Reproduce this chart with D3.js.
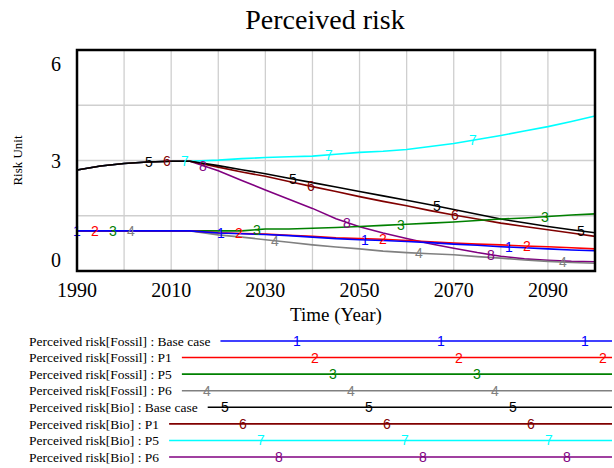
<!DOCTYPE html>
<html>
<head>
<meta charset="utf-8">
<script src="https://cdn.jsdelivr.net/npm/d3@7"></script>
<style>
  body { margin: 0; background: #fff; }
  svg { display: block; }
</style>
</head>
<body>
<div class="chart"></div>
<script>
// 資料
var years = [1990, 1995, 2000, 2005, 2010, 2014, 2020, 2025, 2030, 2035, 2040, 2045,
  2050, 2055, 2060, 2065, 2070, 2075, 2080, 2085, 2090, 2095, 2100];

var fossilBase = [1.09, 1.09, 1.09, 1.09, 1.09, 1.09, 1.03, 1.01, 0.99, 0.96, 0.92, 0.88,
  0.85, 0.83, 0.80, 0.77, 0.73, 0.70, 0.66, 0.63, 0.60, 0.57, 0.55];
var fossilP1 = [1.09, 1.09, 1.09, 1.09, 1.09, 1.09, 1.04, 1.02, 1.00, 0.97, 0.94, 0.90,
  0.88, 0.86, 0.83, 0.79, 0.76, 0.73, 0.71, 0.68, 0.66, 0.63, 0.60];
var fossilP5 = [1.09, 1.09, 1.09, 1.09, 1.09, 1.09, 1.09, 1.09, 1.14, 1.14, 1.16, 1.18,
  1.21, 1.24, 1.27, 1.30, 1.33, 1.37, 1.41, 1.44, 1.48, 1.52, 1.55];
var fossilP6 = [1.09, 1.09, 1.09, 1.09, 1.09, 1.09, 0.98, 0.92, 0.85, 0.78, 0.71, 0.65,
  0.60, 0.54, 0.50, 0.47, 0.44, 0.39, 0.35, 0.30, 0.26, 0.23, 0.21];
var bioBase = [2.74, 2.85, 2.92, 2.96, 2.98, 2.98, 2.86, 2.75, 2.64, 2.52, 2.40, 2.28,
  2.16, 2.04, 1.92, 1.80, 1.67, 1.54, 1.41, 1.31, 1.21, 1.12, 1.04];
var bioP1 = [2.74, 2.85, 2.92, 2.96, 2.98, 2.98, 2.82, 2.69, 2.57, 2.43, 2.29, 2.16,
  2.02, 1.89, 1.77, 1.64, 1.52, 1.41, 1.30, 1.21, 1.12, 1.03, 0.94];
var bioP5 = [2.74, 2.85, 2.92, 2.96, 2.98, 2.98, 3.01, 3.05, 3.08, 3.10, 3.12, 3.17,
  3.22, 3.25, 3.30, 3.38, 3.46, 3.57, 3.68, 3.80, 3.92, 4.06, 4.21];
var bioP6 = [2.74, 2.85, 2.92, 2.96, 2.98, 2.98, 2.72, 2.46, 2.20, 1.95, 1.70, 1.42,
  1.20, 1.03, 0.88, 0.74, 0.62, 0.50, 0.40, 0.33, 0.29, 0.26, 0.25];

var seriesNames = [
  "Perceived risk[Fossil] : Base case",
  "Perceived risk[Fossil] : P1",
  "Perceived risk[Fossil] : P5",
  "Perceived risk[Fossil] : P6",
  "Perceived risk[Bio] : Base case",
  "Perceived risk[Bio] : P1",
  "Perceived risk[Bio] : P5",
  "Perceived risk[Bio] : P6"
];
var seriesValues = [fossilBase, fossilP1, fossilP5, fossilP6, bioBase, bioP1, bioP5, bioP6];
var seriesColors = ["#0000ff", "#ff0000", "#008000", "#808080", "#000000", "#800000", "#00ffff", "#800080"];

var yTicks = [0, 1.5, 3, 4.5, 6];
var yLabels = [0, 3, 6];
var xGrid = d3.range(1990, 2101, 10);
var xLabels = [1990, 2010, 2030, 2050, 2070, 2090];

// 畫布
var width = 614;
var height = 468;
var margin = { top: 50, right: 19, bottom: 197, left: 77 };
var serif = "'Liberation Serif', 'Times New Roman', serif";
var sans = "'Liberation Sans', Arial, sans-serif";

var svg = d3
  .select(".chart")
  .append("svg")
  .attr("width", width)
  .attr("height", height);

var x = d3.scaleLinear().domain([1990, 2100]).range([margin.left, width - margin.right]);
var y = d3.scaleLinear().domain([0, 6]).range([height - margin.bottom, margin.top]);

// 標題
svg.append("text")
  .attr("x", 325)
  .attr("y", 29)
  .attr("text-anchor", "middle")
  .style("font-family", serif)
  .style("font-size", "28px")
  .text("Perceived risk");

// 格線
svg.append("g")
  .selectAll("line")
  .data(xGrid)
  .enter()
  .append("line")
  .attr("x1", (d) => x(d))
  .attr("x2", (d) => x(d))
  .attr("y1", y(6))
  .attr("y2", y(0))
  .attr("stroke", "#cfcfcf")
  .attr("stroke-width", 1.3);

svg.append("g")
  .selectAll("line")
  .data(yTicks)
  .enter()
  .append("line")
  .attr("x1", x(1990))
  .attr("x2", x(2100))
  .attr("y1", (d) => y(d))
  .attr("y2", (d) => y(d))
  .attr("stroke", "#cfcfcf")
  .attr("stroke-width", 1.3);

// 軸標籤
svg.append("g")
  .selectAll("text")
  .data(yLabels)
  .enter()
  .append("text")
  .attr("x", 61)
  .attr("y", (d) => Math.min(Math.max(y(d), y(6) + 14), y(0) - 11))
  .attr("dy", "0.35em")
  .attr("text-anchor", "end")
  .style("font-family", serif)
  .style("font-size", "20px")
  .text((d) => d);

svg.append("g")
  .selectAll("text")
  .data(xLabels)
  .enter()
  .append("text")
  .attr("x", (d) => x(d))
  .attr("y", 297)
  .attr("text-anchor", "middle")
  .style("font-family", serif)
  .style("font-size", "20px")
  .text((d) => d);

svg.append("text")
  .attr("x", (x(1990) + x(2100)) / 2)
  .attr("y", 321)
  .attr("text-anchor", "middle")
  .style("font-family", serif)
  .style("font-size", "19px")
  .text("Time (Year)");

svg.append("text")
  .attr("transform", "translate(22," + y(3) + ") rotate(-90)")
  .attr("text-anchor", "middle")
  .style("font-family", serif)
  .style("font-size", "13px")
  .text("Risk Unit");

// 線
var line = d3
  .line()
  .x((d, i) => x(years[i]))
  .y((d) => y(d));

var labelStep = 144;
var plotLeft = x(1990);
var plotRight = x(2100);

var order = d3.range(seriesValues.length).reverse();
var lines = svg.append("g");
order.forEach(function (s) {
  lines.append("path")
    .datum(seriesValues[s])
    .attr("fill", "none")
    .attr("stroke", seriesColors[s])
    .attr("stroke-width", 1.6)
    .attr("d", line);
});

// 編號標記
var marks = svg.append("g");
d3.range(seriesValues.length).forEach(function (s) {
  var interp = d3.scaleLinear().domain(years).range(seriesValues[s]);
  for (var px = plotLeft + s * labelStep / 8; px <= plotRight; px += labelStep) {
    var yr = x.invert(px);
    marks.append("text")
      .attr("x", px)
      .attr("y", y(interp(yr)))
      .attr("dy", "0.36em")
      .attr("text-anchor", "middle")
      .attr("fill", seriesColors[s])
      .style("font-family", sans)
      .style("font-size", "14px")
      .text(s + 1);
  }
});

// 外框
svg.append("rect")
  .attr("x", plotLeft)
  .attr("y", y(6))
  .attr("width", plotRight - plotLeft)
  .attr("height", y(0) - y(6))
  .attr("fill", "none")
  .attr("stroke", "#000")
  .attr("stroke-width", 2.5);

// 圖例
var legend = svg.append("g");
var rowY = d3.scaleLinear().domain([0, 7]).range([341, 457]);
seriesNames.forEach(function (name, s) {
  var t = legend.append("text")
    .attr("x", 29)
    .attr("y", rowY(s))
    .attr("dy", "0.35em")
    .style("font-family", serif)
    .style("font-size", "13.5px")
    .text(name);
  var start = 29 + t.node().getComputedTextLength() + 10;
  legend.append("line")
    .attr("x1", start)
    .attr("x2", 612)
    .attr("y1", rowY(s))
    .attr("y2", rowY(s))
    .attr("stroke", seriesColors[s])
    .attr("stroke-width", 1.6);
  for (var px = 153 + s * labelStep / 8; px <= 612; px += labelStep) {
    if (px < start + 8) continue;
    legend.append("text")
      .attr("x", px)
      .attr("y", rowY(s))
      .attr("dy", "0.36em")
      .attr("text-anchor", "middle")
      .attr("fill", seriesColors[s])
      .style("font-family", sans)
      .style("font-size", "14px")
      .text(s + 1);
  }
});
</script>
</body>
</html>
